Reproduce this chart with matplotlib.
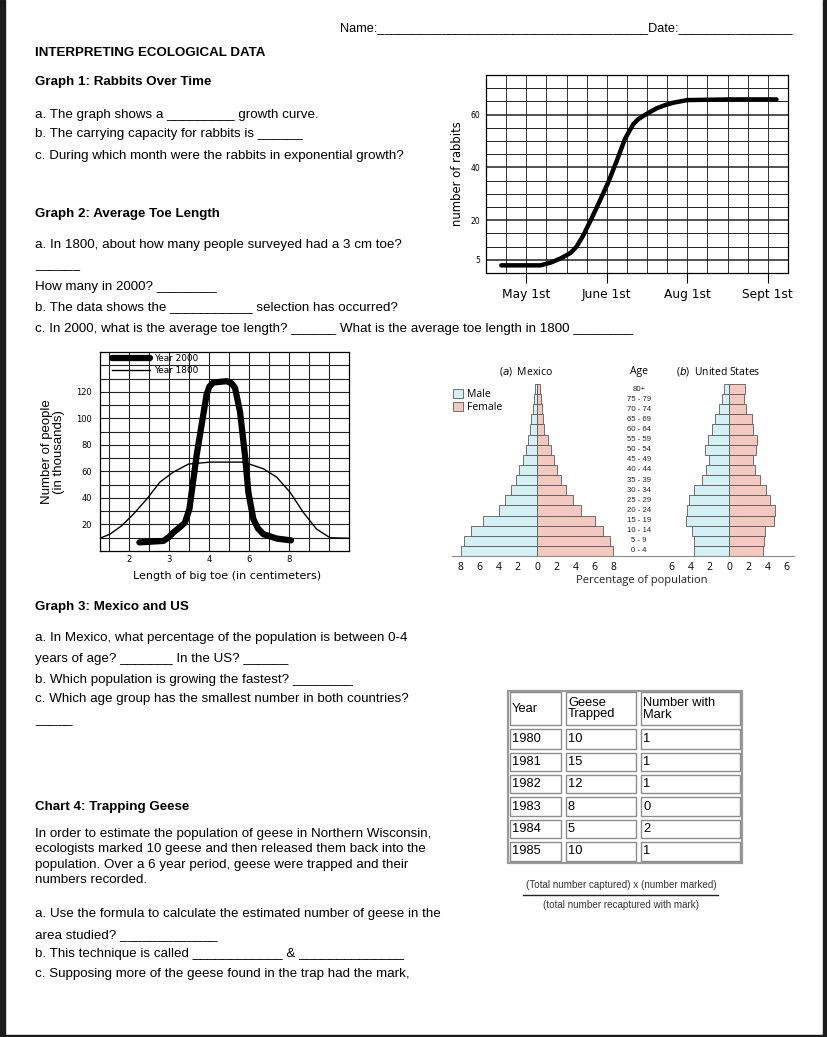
"""Recreate the 'Interpreting Ecological Data' worksheet page."""

import matplotlib

matplotlib.use("Agg")
import matplotlib.pyplot as plt
from matplotlib.lines import Line2D
from matplotlib.patches import Rectangle

W, H = 828, 1037
BODY = ["Liberation Sans", "DejaVu Sans"]
NARROW = ["Liberation Sans Narrow", "Liberation Sans", "DejaVu Sans"]
PYR = ["Open Sans", "DejaVu Sans"]

# Graph 1: rabbits
rabbit_t = [0.76, 2.7, 3.2, 3.7, 4.2, 4.5, 4.85, 5.25, 5.67, 6.08, 6.5, 6.9,
            7.15, 7.32, 7.55, 7.82, 8.1, 8.48, 8.9, 9.3, 10.0, 12.1, 14.43]
rabbit_n = [2.9, 2.9, 3.9, 5.5, 7.6, 10.0, 14.5, 20.75, 27.6, 34.5, 42.6, 50.75,
            54.2, 56.4, 58.2, 59.5, 60.8, 62.4, 63.6, 64.5, 65.5, 65.75, 65.75]
rabbit_tick_pos = [2, 6, 10, 14]
rabbit_tick_labels = ["May 1st", "June 1st", "Aug 1st", "Sept 1st"]
rabbit_y_ticks = [5, 20, 40, 60]

# Graph 2: toe length (x in grid columns)
toe_x_2000 = [1.52, 2.72, 3.0, 3.22, 3.55, 3.8, 4.02, 4.22, 4.38, 4.63, 4.88, 5.02,
              5.22, 5.88, 6.12, 6.3, 6.55, 6.8, 6.97, 7.22, 7.45, 7.72, 8.38, 9.1]
toe_y_2000 = [6.5, 7.6, 10.5, 14, 18, 21.5, 31.6, 54, 72, 95, 118, 124,
              127, 128, 126.5, 123, 105, 72, 44, 24, 17, 12.7, 9.4, 8]
toe_x_1800 = [-0.45, 0.05, 0.63, 1.22, 1.88, 2.55, 3.22, 3.97, 5.05, 6.72,
              7.72, 8.38, 9.05, 9.72, 10.38, 11.05, 12.0]
toe_y_1800 = [9.6, 12.7, 19, 27.8, 39, 52, 59.5, 65.5, 67, 67,
              62, 55.7, 44.3, 29, 16.5, 10, 9.6]
toe_tick_pos = [1, 3, 5, 7, 9]
toe_tick_labels = ["2", "3", "4", "6", "8"]
toe_y_ticks = [20, 40, 60, 80, 100, 120]

# Graph 3: population pyramids (percent), youngest first
age_groups = ["0 - 4", "5 - 9", "10 - 14", "15 - 19", "20 - 24", "25 - 29",
              "30 - 34", "35 - 39", "40 - 44", "45 - 49", "50 - 54", "55 - 59",
              "60 - 64", "65 - 69", "70 - 74", "75 - 79", "80+"]
mexico_male = [7.9, 7.6, 6.85, 5.6, 4.0, 3.3, 2.7, 2.15, 1.85, 1.45, 1.15, 0.95,
               0.75, 0.6, 0.4, 0.3, 0.2]
mexico_female = [7.9, 7.6, 6.9, 6.0, 4.6, 3.75, 3.05, 2.5, 2.1, 1.75, 1.5, 1.1,
                 0.75, 0.65, 0.5, 0.45, 0.3]
us_male = [3.6, 3.6, 3.9, 4.5, 4.35, 4.2, 3.6, 2.8, 2.35, 2.1, 2.45, 2.2,
           1.8, 1.45, 1.05, 0.75, 0.55]
us_female = [3.55, 3.6, 3.8, 4.65, 4.75, 4.3, 3.9, 3.2, 2.7, 2.5, 2.8, 2.9,
             2.5, 2.35, 1.8, 1.55, 1.7]
mexico_ticks = [-8, -6, -4, -2, 0, 2, 4, 6, 8]
us_ticks = [-6, -4, -2, 0, 2, 4, 6]

# Chart 4: geese
geese_header = ["Year", "Geese\nTrapped", "Number with\nMark"]
geese_years = [1980, 1981, 1982, 1983, 1984, 1985]
geese_trapped = [10, 15, 12, 8, 5, 10]
geese_marked = [1, 1, 1, 0, 2, 1]


def px_axes(fig, left, top, right, bottom):
    return fig.add_axes([left / W, 1 - bottom / H, (right - left) / W, (bottom - top) / H])


def put(fig, x, y, s, size=9.6, family=BODY, **kw):
    kw.setdefault("va", "center")
    fig.text(x / W, 1 - y / H, s, fontsize=size, family=family, **kw)


def hline(fig, x0, x1, y, **kw):
    fig.add_artist(Line2D([x0 / W, x1 / W], [1 - y / H, 1 - y / H], **kw))


def draw_text(fig):
    put(fig, 340, 28, "Name:" + "_" * 38 + "Date:" + "_" * 16, size=9.2)
    put(fig, 35, 53, "INTERPRETING ECOLOGICAL DATA", weight="bold")
    put(fig, 35, 82, "Graph 1: Rabbits Over Time", weight="bold")
    put(fig, 35, 115, "a. The graph shows a " + "_" * 9 + " growth curve.")
    put(fig, 35, 134, "b. The carrying capacity for rabbits is " + "_" * 6)
    put(fig, 35, 156, "c. During which month were the rabbits in exponential growth?")
    put(fig, 35, 214, "Graph 2: Average Toe Length", weight="bold")
    put(fig, 35, 245, "a. In 1800, about how many people surveyed had a 3 cm toe?")
    put(fig, 35, 265, "_" * 6)
    put(fig, 35, 287, "How many in 2000? " + "_" * 8)
    put(fig, 35, 307, "b. The data shows the " + "_" * 11 + " selection has occurred?")
    put(fig, 35, 329, "c. In 2000, what is the average toe length? " + "_" * 6
        + " What is the average toe length in 1800 " + "_" * 8)
    put(fig, 35, 607, "Graph 3: Mexico and US", weight="bold")
    put(fig, 35, 638, "a. In Mexico, what percentage of the population is between 0-4")
    put(fig, 35, 659, "years of age? " + "_" * 7 + " In the US? " + "_" * 6)
    put(fig, 35, 680, "b. Which population is growing the fastest? " + "_" * 8)
    put(fig, 35, 699, "c. Which age group has the smallest number in both countries?")
    put(fig, 35, 720, "_" * 5)
    put(fig, 35, 807, "Chart 4: Trapping Geese", weight="bold")
    para = ["In order to estimate the population of geese in Northern Wisconsin,",
            "ecologists marked 10 geese and then released them back into the",
            "population. Over a 6 year period, geese were trapped and their",
            "numbers recorded."]
    for i, line in enumerate(para):
        put(fig, 35, 834 + 15.3 * i, line)
    put(fig, 35, 914, "a. Use the formula to calculate the estimated number of geese in the")
    put(fig, 35, 935, "area studied? " + "_" * 13)
    put(fig, 35, 954, "b. This technique is called " + "_" * 12 + " & " + "_" * 14)
    put(fig, 35, 974, "c. Supposing more of the geese found in the trap had the mark,")


def draw_rabbits(fig):
    ax = px_axes(fig, 486, 75, 788, 273)
    ax.set_xlim(0, 15)
    ax.set_ylim(0, 75)
    for k in range(1, 15):
        ax.axvline(k, color="#333333", lw=0.7, zorder=1)
    for v in range(5, 75, 5):
        ax.axhline(v, color="#222222", lw=1.1 if v in rabbit_y_ticks else 0.7, zorder=1)
    ax.plot(rabbit_t, rabbit_n, color="black", lw=3.2, solid_capstyle="round",
            solid_joinstyle="round", zorder=3)
    ax.set_xticks(rabbit_tick_pos, labels=rabbit_tick_labels)
    ax.set_yticks(rabbit_y_ticks, labels=[str(v) for v in rabbit_y_ticks])
    ax.tick_params(axis="x", direction="out", length=7, width=0.8, pad=4, labelsize=8.8)
    ax.tick_params(axis="y", length=0, pad=4, labelsize=5.5)
    for s in ax.spines.values():
        s.set_linewidth(0.9)
    ax.set_ylabel("number of rabbits", fontsize=8.4, labelpad=5)


def draw_toes(fig):
    ax = px_axes(fig, 100, 352, 349, 551)
    ax.set_xlim(-0.45, 12)
    ax.set_ylim(0, 150)
    for k in range(0, 12):
        ax.axvline(k, color="#222222", lw=0.8, zorder=1)
    for v in range(10, 150, 10):
        ax.axhline(v, color="#222222", lw=0.8, zorder=1)
    ax.plot(toe_x_2000, toe_y_2000, color="black", lw=4.5, solid_capstyle="round",
            solid_joinstyle="round", zorder=3, label="Year 2000")
    ax.plot(toe_x_1800, toe_y_1800, color="black", lw=1.0, zorder=3, label="Year 1800")
    ax.set_xticks(toe_tick_pos, labels=toe_tick_labels)
    ax.set_yticks(toe_y_ticks, labels=[str(v) for v in toe_y_ticks])
    ax.tick_params(axis="both", length=0, labelsize=6)
    ax.tick_params(axis="x", pad=3)
    ax.tick_params(axis="y", pad=6)
    for s in ax.spines.values():
        s.set_linewidth(0.9)
    ax.legend(loc="upper left", bbox_to_anchor=(0.025, 1.02), frameon=False,
              fontsize=6.4, handlelength=4.2, handletextpad=0.5, labelspacing=0.3,
              borderpad=0.2)
    put(fig, 227, 576, "Length of big toe (in centimeters)", size=8, family=["DejaVu Sans"],
        ha="center")
    put(fig, 53, 452, "Number of people\n(in thousands)", size=9.5, family=NARROW,
        ha="center", rotation=90, linespacing=0.95, multialignment="center")


def draw_pyramids(fig):
    ax = px_axes(fig, 452, 384, 795, 556)
    scale = 9.6
    us_zero = (729 - 537) / scale
    ax.set_xlim((452 - 537) / scale, (795 - 537) / scale)
    ax.set_ylim(-0.5, 16.5)
    rows = list(range(len(age_groups)))
    male_c, female_c, edge = "#d3f0f5", "#f5c8bf", "#5a5a5a"
    m = ax.barh(rows, [-v for v in mexico_male], height=1.0, color=male_c,
                edgecolor=edge, lw=0.6, label="Male")
    f = ax.barh(rows, mexico_female, height=1.0, color=female_c, edgecolor=edge,
                lw=0.6, label="Female")
    ax.barh(rows, [-v for v in us_male], left=us_zero, height=1.0, color=male_c,
            edgecolor=edge, lw=0.6)
    ax.barh(rows, us_female, left=us_zero, height=1.0, color=female_c,
            edgecolor=edge, lw=0.6)
    age_x = (639 - 537) / scale
    for r, lab in zip(rows, age_groups):
        ax.text(age_x, r, lab, ha="center", va="center", fontsize=5.6, family=NARROW,
                color="#222222")
    ticks = mexico_ticks + [us_zero + t for t in us_ticks]
    labels = [str(abs(t)) for t in mexico_ticks] + [str(abs(t)) for t in us_ticks]
    ax.set_xticks(ticks, labels=labels)
    ax.set_yticks([])
    ax.tick_params(axis="x", length=0, pad=4, labelsize=7.5)
    for lab in ax.get_xticklabels():
        lab.set_family(PYR)
    for side in ("top", "left", "right"):
        ax.spines[side].set_visible(False)
    ax.spines["bottom"].set_color("#8a8a8a")
    ax.spines["bottom"].set_linewidth(0.8)
    ax.spines["bottom"].set_linestyle((0, (2, 1)))
    ax.legend(handles=[m, f], loc="upper left", bbox_to_anchor=(447 / W, 1 - 383 / H),
              bbox_transform=fig.transFigure, frameon=False, handlelength=0.9,
              handleheight=0.9, handletextpad=0.4, labelspacing=0.15, borderpad=0.1,
              prop={"family": PYR, "size": 7.5})
    put(fig, 526, 371, r"($\it{a}$)  Mexico", size=7.5, family=PYR, ha="center")
    put(fig, 639, 371, "Age", size=7.5, family=PYR, ha="center")
    put(fig, 718, 371, r"($\it{b}$)  United States", size=7.5, family=PYR, ha="center")
    put(fig, 642, 581, "Percentage of population", size=8, family=PYR, ha="center",
        color="#222222")


def draw_geese_table(fig):
    cols = [507, 563, 638, 742]
    rows = [690, 727, 751, 773, 795, 818, 840, 863]
    ax = px_axes(fig, cols[0], rows[0], cols[-1], rows[-1])
    ax.set_xlim(cols[0], cols[-1])
    ax.set_ylim(rows[-1], rows[0])
    ax.axis("off")
    ax.add_patch(Rectangle((cols[0] + 0.5, rows[0] + 0.5), cols[-1] - cols[0] - 1,
                           rows[-1] - rows[0] - 1, fill=False, edgecolor="#9a9a9a", lw=1.6,
                           clip_on=False))
    body = [geese_header] + [[str(y), str(t), str(m)] for y, t, m in
                             zip(geese_years, geese_trapped, geese_marked)]
    for r, row in enumerate(body):
        for c, val in enumerate(row):
            x0, x1 = cols[c], cols[c + 1]
            y0, y1 = rows[r], rows[r + 1]
            ax.add_patch(Rectangle((x0 + 2.5, y0 + 2), x1 - x0 - 5, y1 - y0 - 4,
                                   fill=False, edgecolor="#8c8c8c", lw=1.0))
            ax.text(x0 + 5, (y0 + y1) / 2, val, ha="left", va="center", fontsize=9.3,
                    family=BODY, linespacing=1.0)
    put(fig, 621, 885, "(Total number captured) x (number marked)", size=7.1, ha="center",
        color="#333333")
    hline(fig, 523, 718, 895, color="#222222", lw=1.0)
    put(fig, 621, 905, "(total number recaptured with mark)", size=7.1, ha="center",
        color="#333333")


def main():
    fig = plt.figure(figsize=(W / 100, H / 100), dpi=100)
    fig.patch.set_facecolor("white")
    for x0, w in ((0, 5), (W - 5, 5)):
        fig.add_artist(Rectangle((x0 / W, 0), w / W, 1, transform=fig.transFigure,
                                 color="#1c1c1c", zorder=10))
    fig.add_artist(Rectangle((0, 0), 1, 2 / H, transform=fig.transFigure,
                             color="#1c1c1c", zorder=10))
    draw_text(fig)
    draw_rabbits(fig)
    draw_toes(fig)
    draw_pyramids(fig)
    draw_geese_table(fig)
    fig.savefig("out.png", dpi=100)


if __name__ == "__main__":
    main()
